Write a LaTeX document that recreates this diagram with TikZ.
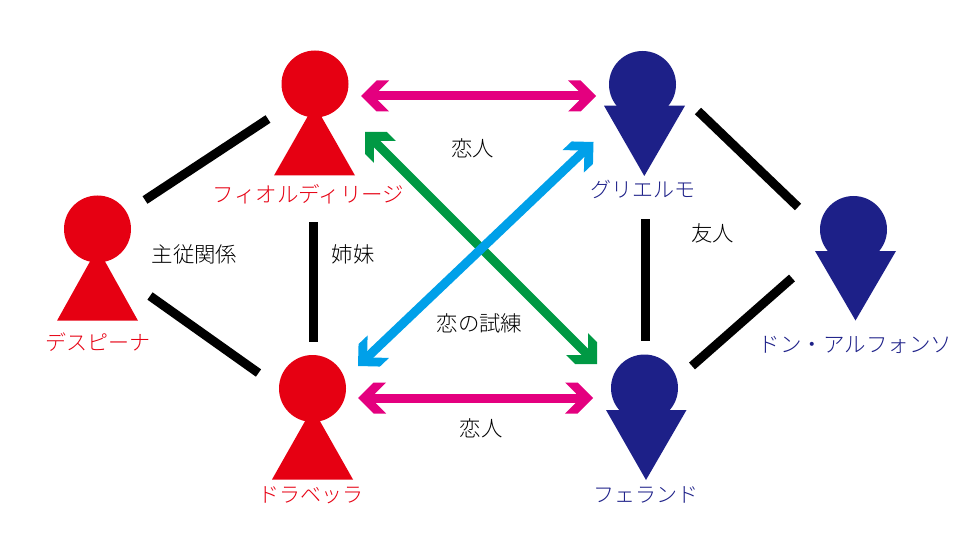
\documentclass[tikz,border=0pt]{standalone}
\usepackage{fontspec}
\setmainfont{Noto Sans CJK JP Light}
\usetikzlibrary{arrows.meta}
\definecolor{cred}{HTML}{E60012}
\definecolor{cnavy}{HTML}{1D2088}
\definecolor{cpink}{HTML}{E4007F}
\definecolor{cgreen}{HTML}{009944}
\definecolor{ccyan}{HTML}{00A0E9}
\pgfdeclarearrow{
  name=Chev,
  setup code={
    \pgfarrowssettipend{0pt}
    \pgfarrowssetlineend{-10pt}
    \pgfarrowssetvisualbackend{-12pt}
    \pgfarrowssetbackend{-28pt}
    \pgfarrowshullpoint{0pt}{0pt}
    \pgfarrowshullpoint{-28pt}{15.5pt}
    \pgfarrowshullpoint{-28pt}{-15.5pt}
  },
  drawing code={
    \pgfpathmoveto{\pgfqpoint{0pt}{0pt}}
    \pgfpathlineto{\pgfqpoint{-15.5pt}{15.5pt}}
    \pgfpathlineto{\pgfqpoint{-28pt}{15.5pt}}
    \pgfpathlineto{\pgfqpoint{-17pt}{4.5pt}}
    \pgfpathlineto{\pgfqpoint{-17pt}{-4.5pt}}
    \pgfpathlineto{\pgfqpoint{-28pt}{-15.5pt}}
    \pgfpathlineto{\pgfqpoint{-15.5pt}{-15.5pt}}
    \pgfpathclose
    \pgfusepathqfill
  }
}
\tikzset{
  x=1pt,y=-1pt,
  head/.style={circle,fill=#1,minimum size=67pt,inner sep=0pt,outer sep=0pt},
  body/.style={fill=#1},
  name label/.style={text=#1,font=\fontsize{21}{21}\selectfont,inner sep=0pt},
  long label/.style={text=#1,font=\fontsize{21.5}{21.5}\selectfont,inner sep=0pt},
  rel label/.style={text=black,font=\fontsize{21.4}{21.4}\selectfont,inner sep=0pt},
  tie/.style={draw=black,line width=9pt},
  twoway/.style={draw=#1,color=#1,line width=9pt,{Chev}-{Chev}}
}
\begin{document}
\begin{tikzpicture}
\useasboundingbox (0,0) rectangle (974,548);
% bodies
\fill[body=cred] (97.5,248) -- (138,320.7) -- (57,320.7) -- cycle;
\fill[body=cred] (314.5,104.5) -- (355,175.5) -- (274,175.5) -- cycle;
\fill[body=cred] (312.5,408) -- (353,479.5) -- (272,479.5) -- cycle;
\fill[body=cnavy] (604,105.7) -- (685,105.7) -- (644.3,176) -- cycle;
\fill[body=cnavy] (606,410) -- (686.5,410) -- (646,480) -- cycle;
\fill[body=cnavy] (815,251) -- (896,251) -- (855.5,320.5) -- cycle;
% heads
\node[head=cred] (despina) at (97.5,229) {};
\node[head=cred] (fiordiligi) at (315,84) {};
\node[head=cred] (dorabella) at (312.5,388.5) {};
\node[head=cnavy] (guglielmo) at (642.5,84.5) {};
\node[head=cnavy] (ferrando) at (644.5,388) {};
\node[head=cnavy] (alfonso) at (853.5,229.5) {};
% connector ends
\coordinate (t1a) at (145,200); \coordinate (t1b) at (268,119);
\coordinate (t2a) at (150,296); \coordinate (t2b) at (258.5,373);
\coordinate (t3a) at (313,222); \coordinate (t3b) at (313,342);
\coordinate (t4a) at (698,111); \coordinate (t4b) at (798,207);
\coordinate (t5a) at (645,219); \coordinate (t5b) at (645,341);
\coordinate (t6a) at (792,278); \coordinate (t6b) at (692,366);
\coordinate (p1a) at (361,96); \coordinate (p1b) at (596,96);
\coordinate (p2a) at (358,398); \coordinate (p2b) at (593,398);
\coordinate (g1a) at (365,132); \coordinate (g1b) at (597,364);
\coordinate (c1a) at (358,366); \coordinate (c1b) at (593.5,142);
% ties
\draw[tie] (t1a) -- (t1b);
\draw[tie] (t2a) -- (t2b);
\draw[tie] (t3a) -- (t3b);
\draw[tie] (t4a) -- (t4b);
\draw[tie] (t5a) -- (t5b);
\draw[tie] (t6a) -- (t6b);
% arrows
\draw[twoway=cpink] (p1a) -- (p1b);
\draw[twoway=cpink] (p2a) -- (p2b);
\draw[twoway=cgreen] (g1a) -- (g1b);
\draw[twoway=ccyan] (c1a) -- (c1b);
% names
\node[name label=cred] (n1) at (97.5,342) {デスピーナ};
\node[long label=cred] (n2) at (308.5,194) {フィオルディリージ};
\node[name label=cred] (n3) at (310.5,495) {ドラベッラ};
\node[name label=cnavy] (n4) at (642.5,189) {グリエルモ};
\node[name label=cnavy] (n5) at (646,495) {フェランド};
\node[long label=cnavy] (n6) at (855.5,345) {ドン・アルフォンソ};
% relations
\node[rel label] (r1) at (472.5,148) {恋人};
\node[rel label] (r2) at (481,428) {恋人};
\node[rel label] (r3) at (194.5,254) {主従関係};
\node[rel label] (r4) at (353,254) {姉妹};
\node[rel label] (r5) at (712.5,233) {友人};
\node[rel label] (r6) at (479.5,323) {恋の試練};
\end{tikzpicture}
\end{document}
